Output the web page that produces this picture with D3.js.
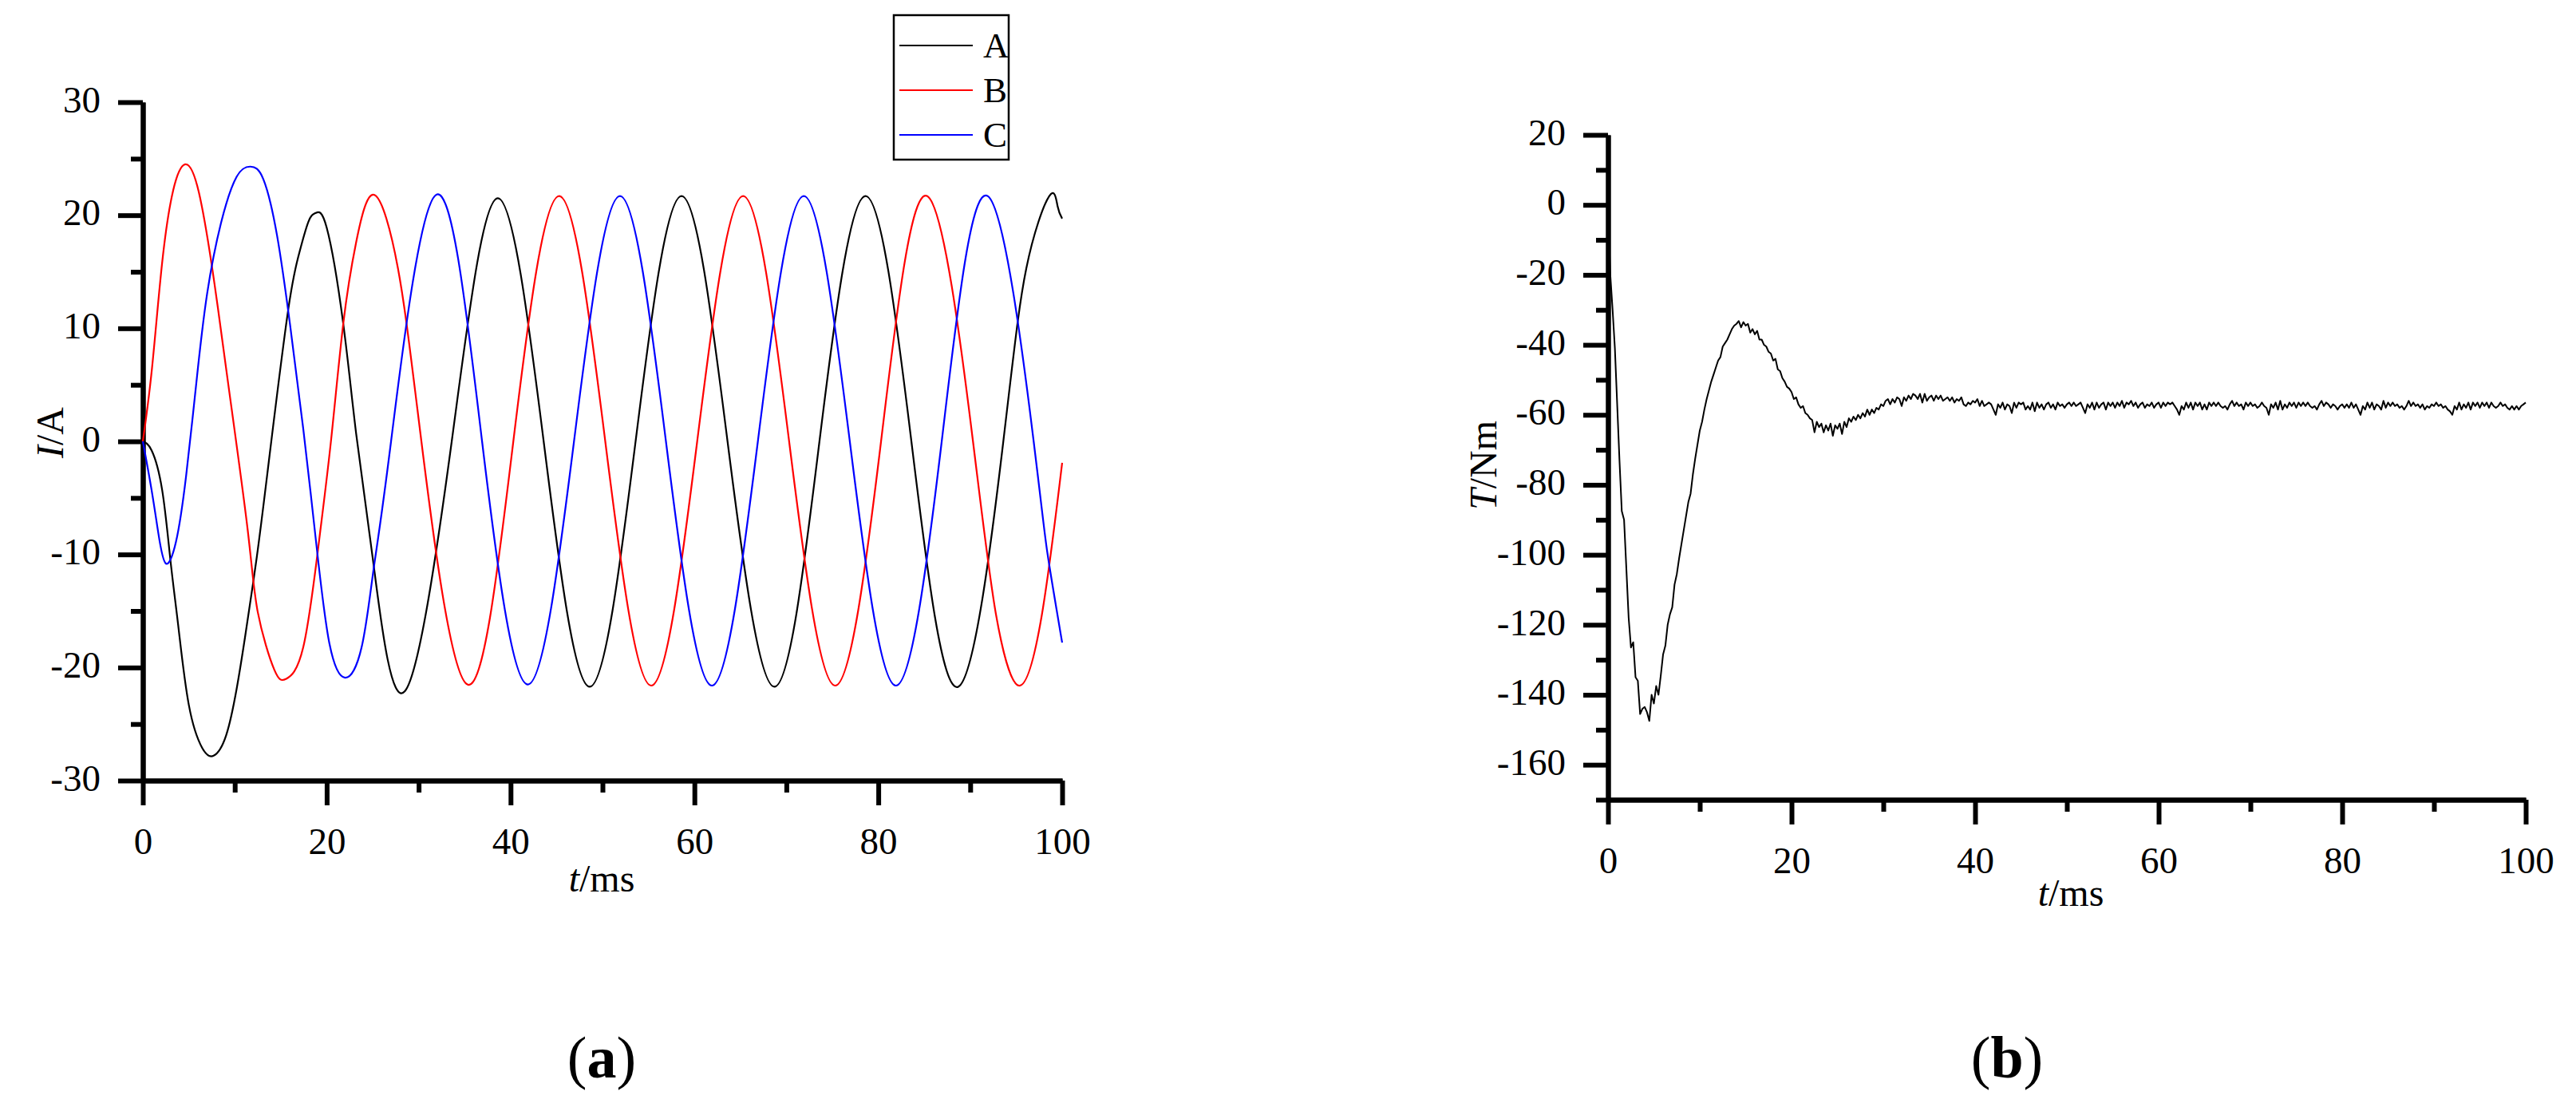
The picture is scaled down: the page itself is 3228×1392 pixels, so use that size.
<!DOCTYPE html>
<html>
<head>
<meta charset="utf-8">
<script src="https://cdn.jsdelivr.net/npm/d3@7"></script>
<style>
  body { margin: 0; background: #fff; }
  svg { display: block; }
  text { font-family: "Liberation Serif", "Times New Roman", serif; fill: #000; }
</style>
</head>
<body>
<svg id="chart" width="3228" height="1392"></svg>
<script>
// ---------------- DATA ----------------
// Panel (a): phase currents, key points (t in ms, I in A)
const tA = [0,0.95,2.1,3.0,3.85,5.0,6.45,7.7,9.06,10.2,11.1,12.4,13.7,15.7,16.9,18.0,18.8,20.0,21.8,23.2,25.1,28.5,33.6,38.6,43.6,48.6,53.6,58.6,63.6,68.7,73.6,78.6,83.6,88.7,93.6,96.1,98.6,99.5,100];
const iA = [0,-0.8,-4.3,-10.5,-16.3,-23.3,-27.1,-27.8,-26.0,-21.9,-17.4,-10.2,-1.8,11.0,16.3,19.4,20.2,18.9,10.4,0.7,-10.9,-22.1,0,21.5,0,-21.7,0,21.7,0,-21.7,0,21.7,0,-21.7,0,15.3,21.7,20.8,19.7];

const tB = [0,1.0,2.1,3.3,4.6,6.1,7.8,9.3,11.4,12.5,14.3,15.6,17.45,19.2,20.5,21.8,23.2,25.2,27.75,30.3,35.3,40.3,45.3,50.3,55.3,60.3,65.3,70.3,75.3,80.3,85.3,90.3,92.8,95.3,97.8,100];
const iB = [0,6.5,15.8,22.2,24.5,22.0,13.9,5.0,-7.8,-15.1,-20.2,-21.0,-18.2,-8.6,0.3,10.4,17.6,21.8,15.3,0,-21.5,0,21.7,0,-21.6,0,21.7,0,-21.6,0,21.7,0,-15.3,-21.6,-15.3,-1.9];

const tC = [0,0.95,1.7,2.5,3.6,4.7,5.9,7.0,8.5,10.2,11.7,13.1,14.6,16.0,17.45,18.9,20.3,22.0,23.8,25.1,27.0,31.9,36.9,41.9,46.9,51.9,56.9,61.9,66.9,71.9,76.9,81.9,86.9,91.9,96.9,98.4,100];
const iC = [0,-4.3,-8.2,-10.8,-8.9,-3.1,5.8,13.1,19.3,23.4,24.3,23.2,18.2,10.4,1.1,-9.3,-17.9,-20.9,-18.2,-11.3,0,21.8,0,-21.5,0,21.7,0,-21.6,0,21.7,0,-21.6,0,21.7,0,-9.9,-17.8];

const seriesNames = ["A", "B", "C"];

// Panel (b): torque (Nm) sampled every 0.25 ms from t = 0 to 100 ms
const torqueStep = 0.25;
const torque = [
  -2,-20,-30,-41,-57,-73,-87.5,-90,-104,-118,-126.5,-125,-135,-136,-145.5,-144,-143.5,-145,-147.5,-140,
  -142.5,-137.5,-140,-134.5,-128.5,-126,-120,-117,-115,-108.5,-105.5,-101,-97,-93,-89,-85,-82.5,-77,-72.5,-68.5,
  -64.5,-62,-58.5,-55.5,-53,-50.5,-48.5,-46.5,-44.5,-43.5,-40.5,-39.5,-38.5,-37,-35.5,-34.5,-34,-33.2,-35,-33.5,
  -34.5,-34,-36.5,-35.5,-37,-36,-38.5,-38.5,-40,-40.5,-42,-42.5,-44.5,-44,-47,-47.5,-49.5,-50.5,-52,-52.5,
  -53.5,-55.5,-55,-57,-58,-57.5,-59.5,-60,-61,-61.5,-65,-62,-63.5,-62.5,-65,-63,-64.5,-62.5,-66,-63,
  -64,-62.5,-65.5,-62,-63.5,-61,-62,-60.5,-61.5,-60,-61,-59.5,-60.5,-58.5,-60,-58.5,-59.5,-58,-58.5,-57,
  -57.5,-56,-55.5,-57,-55.5,-56.5,-55,-55.5,-57.5,-55,-56,-54.5,-55.5,-54,-54.5,-55.5,-54,-56.5,-54,-56,
  -55,-54.5,-56,-54.5,-55.5,-54.5,-56,-55.5,-55,-56,-55,-56.5,-55.5,-56,-55,-57,-57.5,-56.5,-57,-56,
  -56.5,-55.5,-57.5,-56,-57.5,-57,-56.5,-57,-58.5,-60,-57,-58,-56.5,-58.5,-57,-57.5,-59.5,-56.5,-58,-56.5,
  -57,-56.5,-58.5,-57.5,-58.5,-56.5,-59,-56.5,-58,-57,-58.5,-57,-56.5,-58,-57,-58.5,-56.5,-57.5,-57,-58,
  -57,-56.5,-57.5,-56.5,-57.5,-57,-56.5,-58,-59.5,-57,-58,-56.5,-58.5,-56.5,-58,-57,-56.5,-58.5,-56.5,-57.5,
  -56.5,-58,-56.5,-57.5,-56,-58,-56.5,-57,-56,-57.5,-56.5,-58,-57,-56.5,-58,-57,-57.5,-56.5,-58,-57,
  -56.5,-58,-56.5,-57.5,-56.5,-57,-56.5,-57.5,-58.5,-60,-57.5,-58.5,-56.5,-58,-56.5,-58.5,-56.5,-57.5,-56.5,-58.5,
  -57,-58.5,-56.5,-57.5,-56.5,-57.5,-56.5,-57.5,-58,-57.5,-58.5,-57,-56,-57.5,-56.5,-57.5,-57,-58.5,-56.5,-57.5,
  -56.5,-57.5,-57,-58,-57.5,-56.5,-57.5,-58,-60,-57,-58,-56.5,-58.5,-56,-58.5,-57,-58,-56.5,-57.5,-56.5,
  -58,-56.5,-57.5,-56.5,-57.5,-56.5,-57.5,-58,-57.5,-58.5,-57,-56,-57.5,-56.5,-57,-58,-57,-57.5,-58.5,-57.5,
  -57,-58,-57,-58,-56.5,-58,-57,-58.5,-60,-57.5,-58.5,-56.5,-58,-56.5,-58.5,-57,-57.5,-58.5,-56,-58,
  -56.5,-57.5,-56.5,-57.5,-57,-58,-57.5,-58.5,-57.5,-56,-57.5,-56.5,-57.5,-57,-58,-57,-58.5,-57.5,-58,-57,
  -57.5,-56.5,-57.5,-57,-58,-57.5,-58.5,-59,-60,-57.5,-58.5,-56.5,-58.5,-57,-58,-56.5,-58.5,-56.5,-57.5,-56.5,
  -58,-56.5,-57.5,-56.5,-58,-56.5,-57.5,-58,-57.5,-56.5,-57.5,-57,-58,-58.5,-57.5,-58.5,-57.5,-58.5,-57.5,-57,
  -56.5
];

// Tick values / labels
const xMajorTicks = [0, 20, 40, 60, 80, 100];
const xMinorTicks = [10, 30, 50, 70, 90];
const yMajorA = [-30, -20, -10, 0, 10, 20, 30];
const yMinorA = [-25, -15, -5, 5, 15, 25];
const yMajorB = [-160, -140, -120, -100, -80, -60, -40, -20, 0, 20];
const yMinorB = [-170, -150, -130, -110, -90, -70, -50, -30, -10, 10];

// ---------------- DRAWING ----------------
const svg = d3.select("#chart");
svg.append("rect").attr("width", 3228).attr("height", 1392).attr("fill", "#fff");

const TICK_FONT = 47;
const AXIS_W = 6;

function drawAxes(x, y, yMajor, yMinor) {
  const x0 = x.range()[0];
  const y0 = y.range()[0];
  const parts = [
    svg.append("g").attr("transform", `translate(${x0},0)`)
      .call(d3.axisLeft(y).tickValues(yMinor).tickSize(15).tickSizeOuter(0).tickFormat("")),
    svg.append("g").attr("transform", `translate(0,${y0})`)
      .call(d3.axisBottom(x).tickValues(xMinorTicks).tickSize(15).tickSizeOuter(0).tickFormat("")),
    svg.append("g").attr("transform", `translate(${x0},0)`)
      .call(d3.axisLeft(y).tickValues(yMajor).tickSize(31).tickSizeOuter(0).tickPadding(22).tickFormat(d => String(d))),
    svg.append("g").attr("transform", `translate(0,${y0})`)
      .call(d3.axisBottom(x).tickValues(xMajorTicks).tickSize(31).tickSizeOuter(0).tickPadding(28).tickFormat(d => String(d)))
  ];
  parts.forEach(g => {
    g.selectAll("path, line").attr("stroke", "#000").attr("stroke-width", AXIS_W);
    g.selectAll("text").attr("font-size", TICK_FONT).attr("fill", "#000")
      .attr("font-family", '"Liberation Serif","Times New Roman",serif');
  });
  parts[2].selectAll("text").attr("dy", "0.26em");
}

// ----- Panel (a)
const xL = d3.scaleLinear().domain([0, 100]).range([179, 1331]);
const yL = d3.scaleLinear().domain([-30, 30]).range([978, 128]);
drawAxes(xL, yL, yMajorA, yMinorA);

const curLine = d3.line().x(d => xL(d[0])).y(d => yL(d[1])).curve(d3.curveNatural);
const curSeries = [
  { name: seriesNames[0], t: tA, v: iA, color: "#000000" },
  { name: seriesNames[1], t: tB, v: iB, color: "#ff0000" },
  { name: seriesNames[2], t: tC, v: iC, color: "#0000ff" }
];
curSeries.forEach(s => {
  svg.append("path")
    .attr("d", curLine(s.t.map((t, i) => [t, s.v[i]])))
    .attr("fill", "none").attr("stroke", s.color).attr("stroke-width", 2.2);
});

// legend
const lg = svg.append("g");
lg.append("rect").attr("x", 1120).attr("y", 19).attr("width", 144).attr("height", 181)
  .attr("fill", "none").attr("stroke", "#000").attr("stroke-width", 2.5);
curSeries.forEach((s, i) => {
  const yy = 57 + i * 56;
  lg.append("line").attr("x1", 1127).attr("x2", 1219).attr("y1", yy).attr("y2", yy)
    .attr("stroke", s.color).attr("stroke-width", 2.2);
  lg.append("text").attr("x", 1232).attr("y", yy + 15).attr("font-size", 45).text(s.name);
});

// axis titles (a)
const tyA = svg.append("text").attr("transform", "translate(62,542) rotate(-90)")
  .attr("text-anchor", "middle").attr("dominant-baseline", "central").attr("font-size", 48);
tyA.append("tspan").attr("font-style", "italic").text("I");
tyA.append("tspan").text("/A");

const txA = svg.append("text").attr("x", 754).attr("y", 1117).attr("text-anchor", "middle").attr("font-size", 48);
txA.append("tspan").attr("font-style", "italic").text("t");
txA.append("tspan").text("/ms");

const capA = svg.append("text").attr("x", 754).attr("y", 1350).attr("text-anchor", "middle").attr("font-size", 74);
capA.append("tspan").text("(");
capA.append("tspan").attr("font-weight", "bold").text("a");
capA.append("tspan").text(")");

// ----- Panel (b)
const xR = d3.scaleLinear().domain([0, 100]).range([2015, 3165]);
const yR = d3.scaleLinear().domain([-170, 20]).range([1002, 169]);
drawAxes(xR, yR, yMajorB, yMinorB);

const torqueLine = d3.line().x((d, i) => xR(i * torqueStep)).y(d => yR(d));
svg.append("path").attr("d", torqueLine(torque))
  .attr("fill", "none").attr("stroke", "#000").attr("stroke-width", 2).attr("stroke-linejoin", "round");

const tyB = svg.append("text").attr("transform", "translate(1858,583) rotate(-90)")
  .attr("text-anchor", "middle").attr("dominant-baseline", "central").attr("font-size", 48);
tyB.append("tspan").attr("font-style", "italic").text("T");
tyB.append("tspan").text("/Nm");

const txB = svg.append("text").attr("x", 2595).attr("y", 1135).attr("text-anchor", "middle").attr("font-size", 48);
txB.append("tspan").attr("font-style", "italic").text("t");
txB.append("tspan").text("/ms");

const capB = svg.append("text").attr("x", 2515).attr("y", 1350).attr("text-anchor", "middle").attr("font-size", 74);
capB.append("tspan").text("(");
capB.append("tspan").attr("font-weight", "bold").text("b");
capB.append("tspan").text(")");
</script>
</body>
</html>
